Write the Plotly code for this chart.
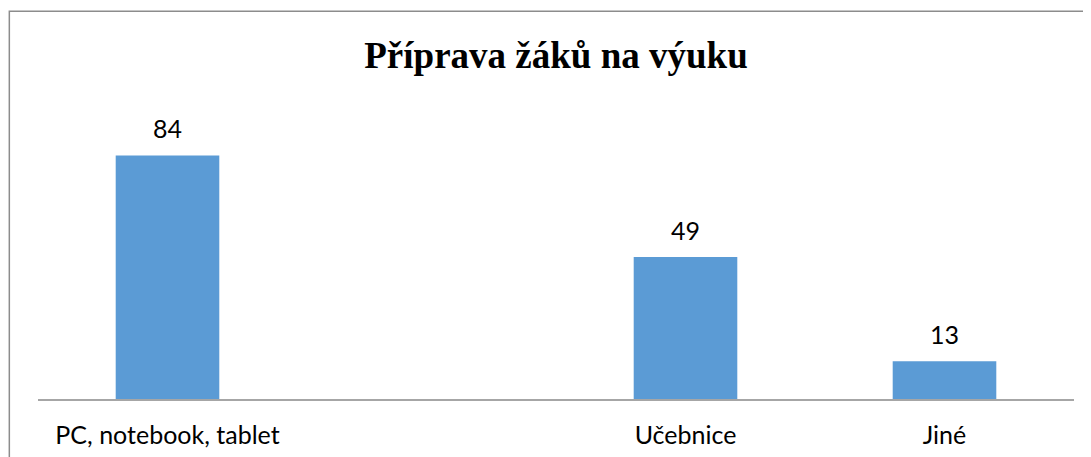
import plotly.graph_objects as go

categories = ["PC, notebook, tablet", " ", "Učebnice", "Jiné"]
values = [84, None, 49, 13]
title_text = "Příprava žáků na výuku"

bar_color = "#5B9BD5"
label_font = dict(family="Lato", size=25, color="#000000")

W, H = 1083, 449  # page body has an 8px margin
L, R, T, B = 29.5, 16.5, 101.4, 58.3
PW = W - L - R
PH = H - T - B

fig = go.Figure()
fig.add_trace(go.Bar(
    x=categories,
    y=values,
    marker=dict(color=bar_color, line=dict(width=0)),
    width=0.4,
    hoverinfo="skip",
))

for c, v in zip(categories, values):
    if v is None:
        continue
    fig.add_annotation(x=c, y=v, text=str(v), showarrow=False,
                       yanchor="bottom", yshift=10, font=label_font)

fig.update_layout(
    width=W, height=H,
    margin=dict(l=L, r=R, t=T, b=B, autoexpand=False),
    paper_bgcolor="white", plot_bgcolor="white",
    showlegend=False,
    title=dict(text="<b>" + title_text + "</b>", x=548 / W, xref="container", xanchor="center",
               y=1 - 47 / H, yref="container", yanchor="middle",
               font=dict(family="Liberation Serif", size=37, color="#000000")),
    xaxis=dict(type="category", categoryorder="array", categoryarray=categories,
               range=[-0.5, 3.5], showgrid=False, zeroline=False,
               showline=True, linecolor="#A6A6A6", linewidth=1.5,
               ticks="", ticklabelstandoff=13, tickfont=label_font),
    yaxis=dict(range=[0, 100], visible=False, showgrid=False, zeroline=False),
    shapes=[dict(type="rect", xref="paper", yref="paper",
                 x0=(0.8 - L) / PW, x1=1.2, y0=-0.5, y1=1 + (T - 4) / PH,
                 line=dict(color="#8C8C8C", width=1.5), fillcolor="rgba(0,0,0,0)",
                 layer="below")],
)

fig.write_html("out.html")
